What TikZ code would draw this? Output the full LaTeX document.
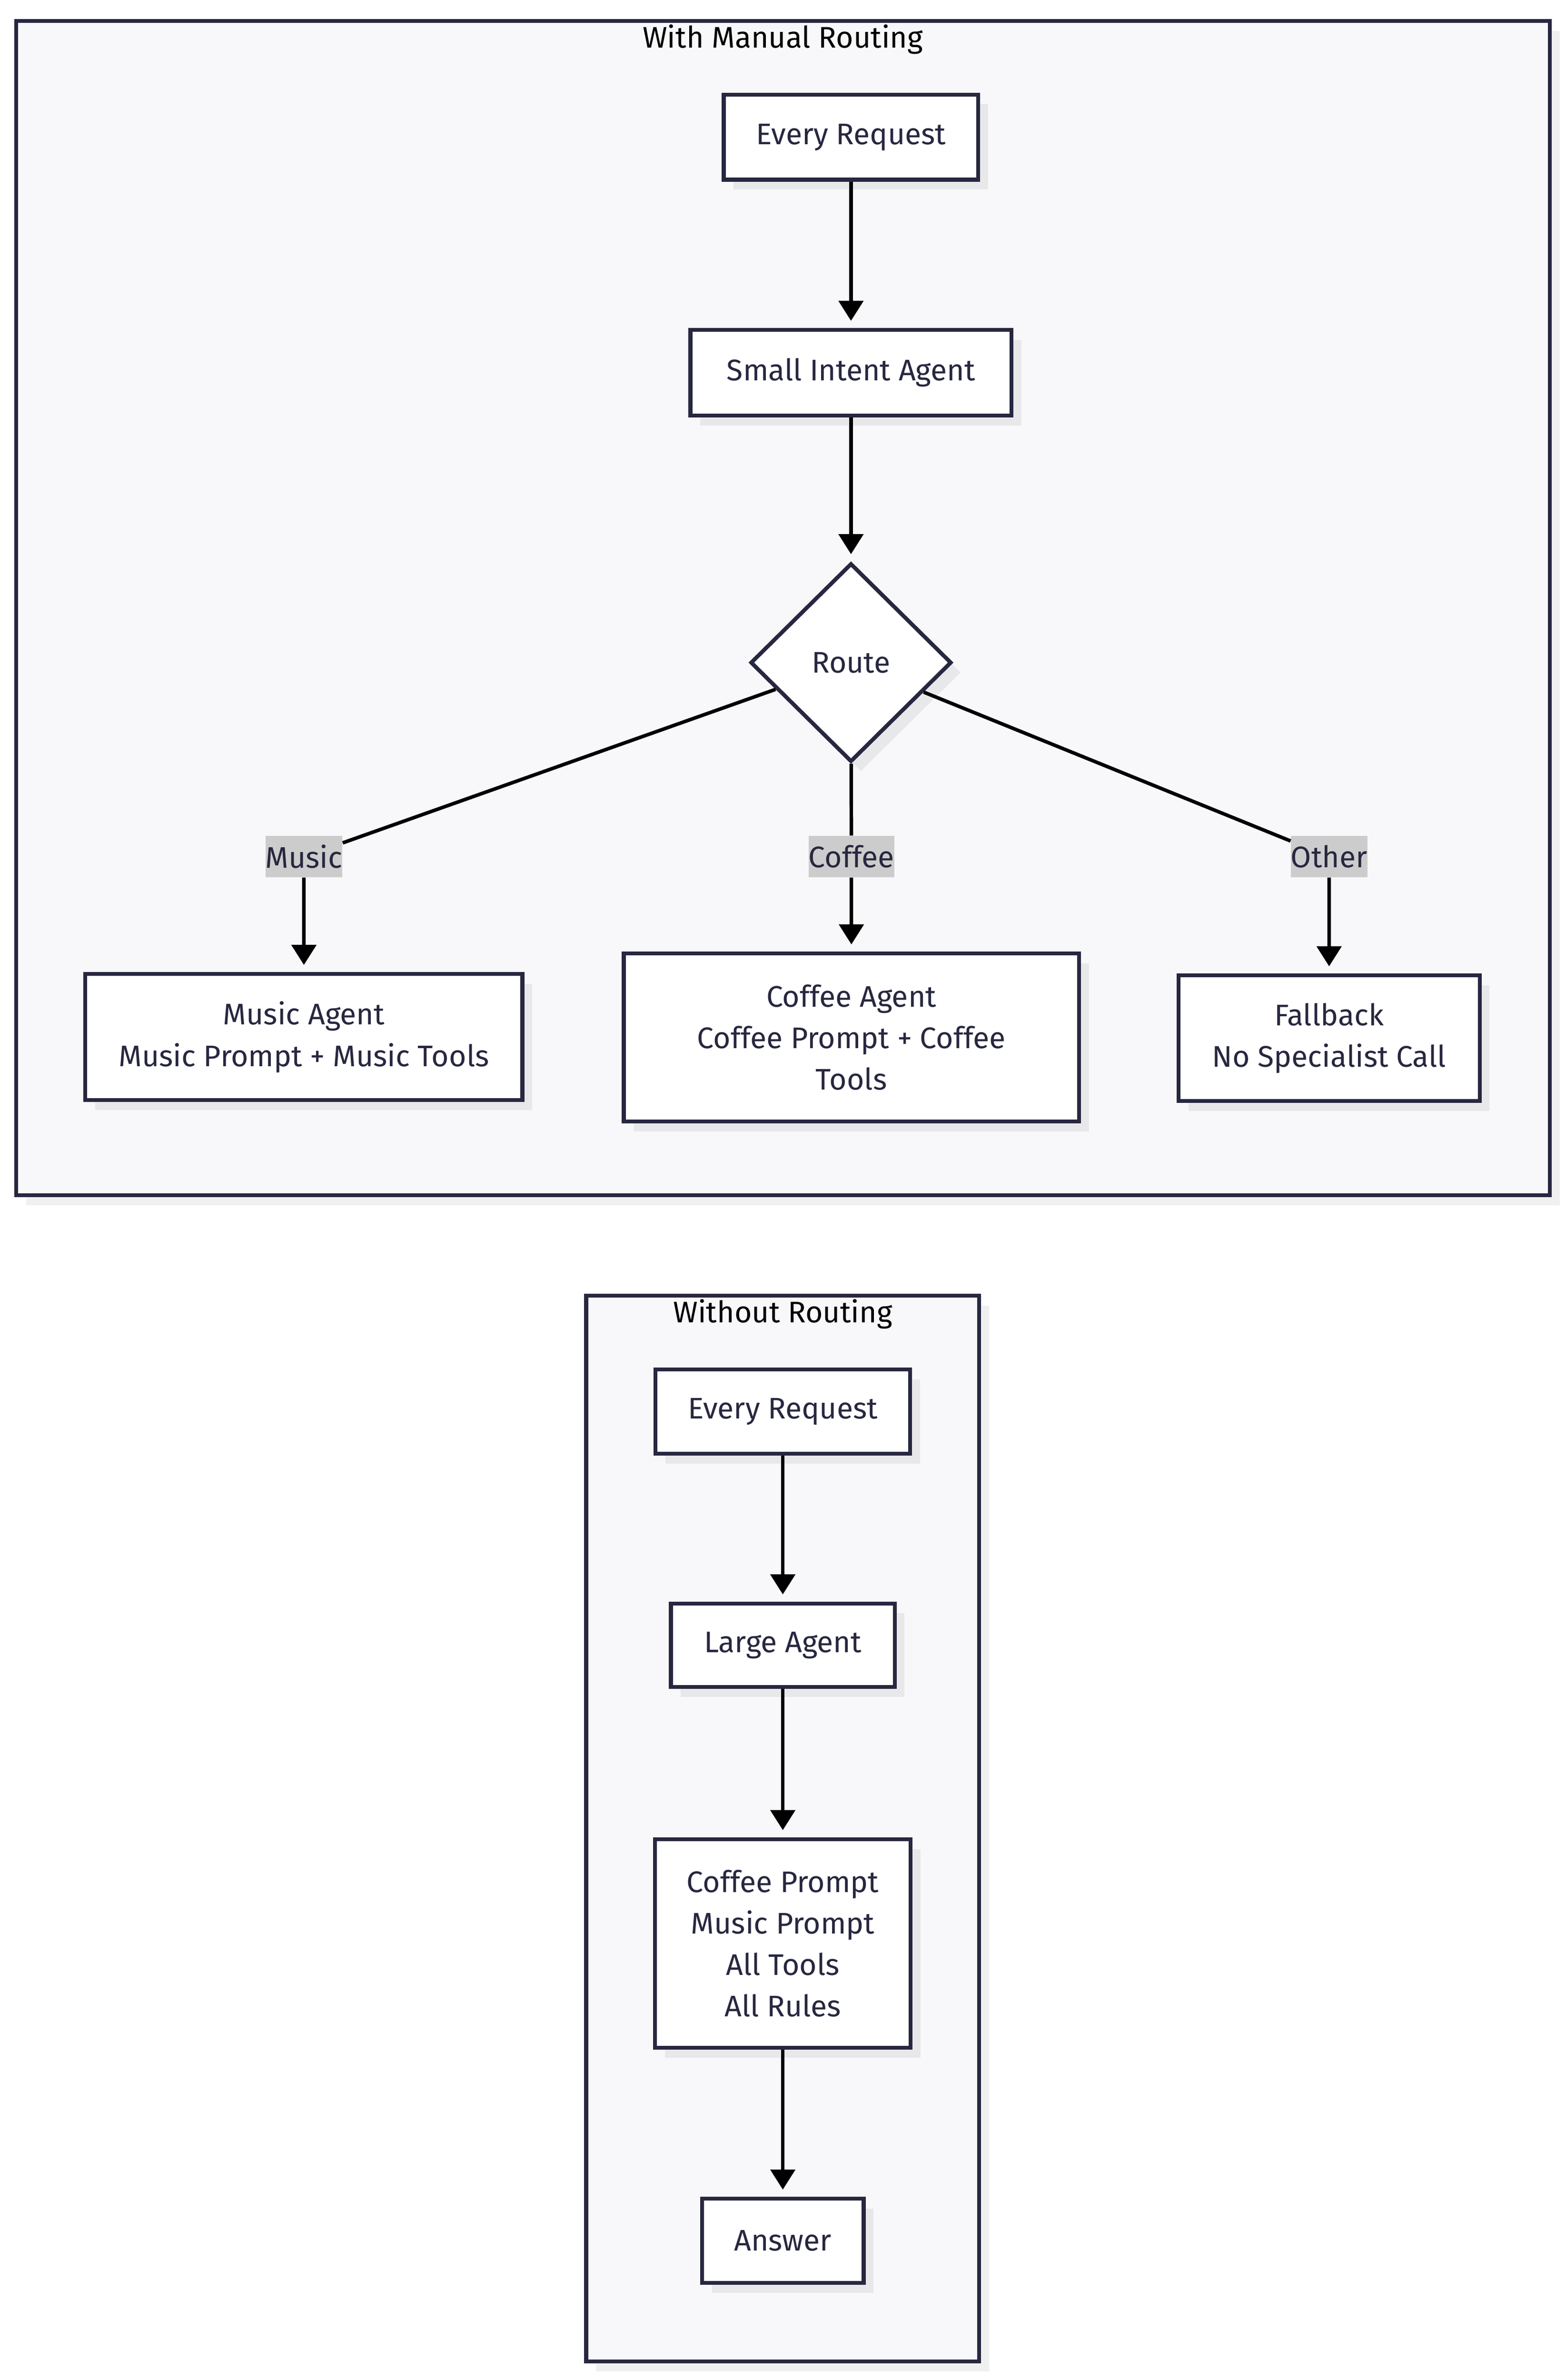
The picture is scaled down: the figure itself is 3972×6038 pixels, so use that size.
\documentclass[tikz,border=0pt]{standalone}
\usepackage{fontspec}
\setmainfont{Fira Sans}
\usepackage{tikz}
\usetikzlibrary{shapes.geometric, arrows.meta, positioning, shadows}

\definecolor{ink}{HTML}{272740}
\definecolor{paper}{HTML}{F8F8FA}
\definecolor{shade}{HTML}{E8E8EB}
\definecolor{shadelight}{HTML}{F0F0F0}
\definecolor{lblgray}{HTML}{CCCCCC}

\begin{document}
\begin{tikzpicture}[
    x=0.1mm, y=-0.1mm,
    font=\fontsize{21.5pt}{30pt}\selectfont,
    shade/.style={drop shadow={shadow xshift=2.5mm, shadow yshift=-2.5mm, fill=shade, opacity=1}},
    box/.style={rectangle, draw=ink, fill=white, line width=1mm, text=ink, align=center, inner sep=0pt, shade},
    decision/.style={diamond, draw=ink, fill=white, line width=1mm, text=ink, inner sep=0pt, minimum width=51mm, minimum height=50.4mm, shade},
    elabel/.style={rectangle, fill=lblgray, text=ink, inner xsep=0pt, inner ysep=0pt, minimum height=10.5mm},
    cluster/.style={draw=ink, fill=paper, line width=1mm, drop shadow={shadow xshift=2.5mm, shadow yshift=-2.5mm, fill=shadelight, opacity=1}},
    ctitle/.style={text=black},
    arrow/.style={-{Triangle[length=5.1mm, width=6.2mm]}, line width=0.9mm, black, shorten >=1.8mm}
]
\useasboundingbox[fill=white] (0,0) rectangle (3972,6038);

% With Manual Routing
\draw[cluster] (41,53) rectangle (3932,3032);
\node[ctitle] (title1) at (1986,100) {With Manual Routing};

\node[box, minimum width=64.6mm, minimum height=21.6mm] (req1) at (2159,348) {Every Request};
\node[box, minimum width=81.5mm, minimum height=21.7mm, below=37.1mm of req1] (intent) {Small Intent Agent};
\node[decision, below=36.5mm of intent] (route) {Route};

\node[elabel] (lblMusic) at (771,2173) {Music};
\node[elabel] (lblCoffee) at (2160,2173) {Coffee};
\node[elabel] (lblOther) at (3372,2173) {Other};

\node[box, minimum width=110.9mm, minimum height=32mm] (music) at (771,2631) {Music Agent\\Music Prompt + Music Tools};
\node[box, minimum width=115.5mm, minimum height=42.6mm] (coffee) at (2160,2632) {Coffee Agent\\Coffee Prompt + Coffee\\Tools};
\node[box, minimum width=76.4mm, minimum height=31.9mm] (fallback) at (3372,2634) {Fallback\\No Specialist Call};

\draw[arrow] (req1) -- (intent);
\draw[arrow] (intent) -- (route);
\draw[arrow] (route) -- (lblMusic) -- (music);
\draw[arrow] (route) -- (lblCoffee) -- (coffee);
\draw[arrow] (route) -- (lblOther) -- (fallback);

% Without Routing
\draw[cluster] (1487,3287) rectangle (2484,5991);
\node[ctitle] (title2) at (1986,3334) {Without Routing};

\node[box, minimum width=64.6mm, minimum height=21.4mm] (req2) at (1986,3581) {Every Request};
\node[box, minimum width=56.8mm, minimum height=21.2mm, below=37mm of req2] (large) {Large Agent};
\node[box, minimum width=64.9mm, minimum height=52.9mm, below=37.6mm of large] (prompts) {Coffee Prompt\\Music Prompt\\All Tools\\All Rules};
\node[box, minimum width=41mm, minimum height=21.4mm, below=37.3mm of prompts] (answer) {Answer};

\draw[arrow] (req2) -- (large);
\draw[arrow] (large) -- (prompts);
\draw[arrow] (prompts) -- (answer);

\end{tikzpicture}
\end{document}
